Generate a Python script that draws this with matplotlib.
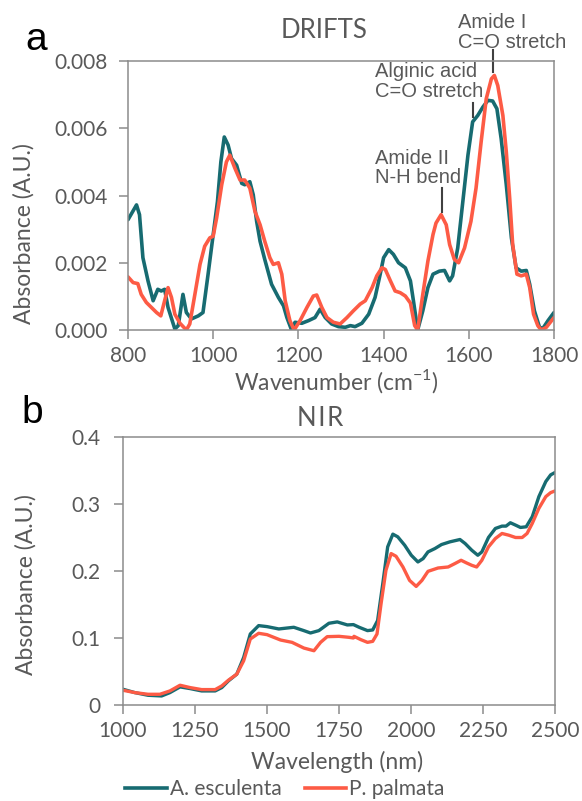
import numpy as np
import matplotlib
matplotlib.use("Agg")
import matplotlib.pyplot as plt

# DRIFTS spectra (absorbance in units of 1e-3)
drifts_wn_esc = [800, 820, 827, 835, 847, 859, 870, 878, 886, 894, 910, 918, 929, 937, 949, 965, 976, 988,
                 1000, 1010, 1018, 1026, 1035, 1043, 1055, 1067, 1074, 1086, 1094, 1102, 1110, 1121, 1137,
                 1153, 1165, 1173, 1184, 1192, 1208, 1224, 1239, 1251, 1263, 1278, 1294, 1310, 1322, 1333,
                 1349, 1365, 1380, 1392, 1400, 1412, 1423, 1435, 1451, 1463, 1470, 1480, 1492, 1504, 1516,
                 1531, 1543, 1555, 1562, 1574, 1586, 1598, 1609, 1621, 1633, 1645, 1656, 1666, 1676, 1688,
                 1700, 1711, 1723, 1735, 1743, 1754, 1766, 1774, 1786, 1800]
drifts_abs_esc = [3.28, 3.72, 3.43, 2.15, 1.46, 0.87, 1.21, 1.16, 1.21, 0.67, 0.03, 0.13, 1.06, 0.52, 0.33,
                  0.42, 0.52, 1.66, 2.84, 3.82, 5.00, 5.74, 5.50, 5.10, 4.90, 4.36, 4.32, 4.41, 4.02, 3.23,
                  2.64, 2.10, 1.36, 0.97, 0.72, 0.37, 0.00, 0.23, 0.20, 0.28, 0.37, 0.62, 0.37, 0.18, 0.10,
                  0.08, 0.13, 0.10, 0.20, 0.47, 0.97, 1.66, 2.15, 2.39, 2.25, 2.00, 1.85, 1.46, 0.87, 0.00,
                  0.57, 1.26, 1.66, 1.75, 1.77, 1.46, 1.61, 2.44, 3.82, 5.20, 6.19, 6.38, 6.63, 6.83, 6.81,
                  6.58, 5.69, 4.32, 2.74, 1.85, 1.75, 1.77, 1.36, 0.57, 0.08, 0.05, 0.28, 0.52]

drifts_wn_pal = [800, 812, 823, 831, 843, 855, 867, 877, 886, 894, 902, 910, 922, 937, 945, 957, 969, 980,
                 992, 1000, 1008, 1020, 1031, 1039, 1051, 1063, 1074, 1086, 1098, 1110, 1121, 1133, 1141,
                 1153, 1161, 1169, 1180, 1190, 1204, 1220, 1235, 1243, 1255, 1267, 1282, 1298, 1314, 1329,
                 1345, 1357, 1373, 1384, 1396, 1404, 1416, 1427, 1439, 1451, 1463, 1473, 1480, 1492, 1504,
                 1516, 1523, 1535, 1547, 1555, 1566, 1576, 1590, 1605, 1617, 1629, 1641, 1653, 1660, 1668,
                 1680, 1688, 1696, 1703, 1713, 1723, 1735, 1743, 1752, 1762, 1770, 1782, 1800]
drifts_abs_pal = [1.58, 1.41, 1.38, 1.06, 0.82, 0.67, 0.52, 0.42, 0.87, 1.26, 0.97, 0.47, 0.20, 0.00, 0.18,
                  1.06, 1.95, 2.49, 2.74, 2.79, 3.33, 4.32, 5.00, 5.20, 4.81, 4.46, 4.46, 4.22, 3.53, 3.13,
                  2.64, 2.15, 1.95, 2.00, 1.66, 0.87, 0.28, 0.00, 0.28, 0.67, 1.01, 1.04, 0.67, 0.37, 0.23,
                  0.18, 0.37, 0.57, 0.77, 0.87, 1.26, 1.61, 1.85, 1.80, 1.46, 1.16, 1.11, 1.01, 0.80, 0.13,
                  0.00, 1.06, 2.05, 2.84, 3.18, 3.43, 3.13, 2.54, 2.10, 2.00, 2.44, 3.23, 4.22, 5.60, 6.88,
                  7.47, 7.57, 7.27, 6.38, 5.30, 3.92, 2.54, 1.66, 1.61, 1.66, 1.26, 0.47, 0.13, 0.00, 0.08,
                  0.37]

# NIR spectra
nir_wl_esc = [1000, 1041, 1087, 1134, 1163, 1198, 1233, 1273, 1320, 1343, 1366, 1395, 1419, 1442, 1471,
              1500, 1541, 1593, 1628, 1651, 1680, 1715, 1744, 1779, 1800, 1820, 1849, 1867, 1884, 1902,
              1919, 1937, 1954, 1978, 2001, 2024, 2042, 2059, 2083, 2106, 2135, 2170, 2188, 2211, 2232,
              2246, 2269, 2293, 2316, 2330, 2345, 2363, 2380, 2400, 2421, 2444, 2468, 2485, 2500]
nir_abs_esc = [0.0235, 0.0185, 0.0145, 0.0135, 0.0185, 0.0270, 0.0245, 0.0210, 0.0210, 0.0260, 0.0360,
               0.0460, 0.0710, 0.1060, 0.1185, 0.1170, 0.1135, 0.1160, 0.1110, 0.1075, 0.1110, 0.1220,
               0.1240, 0.1195, 0.1200, 0.1160, 0.1110, 0.1120, 0.1260, 0.1810, 0.2360, 0.2550, 0.2510,
               0.2385, 0.2235, 0.2135, 0.2185, 0.2285, 0.2335, 0.2395, 0.2435, 0.2470, 0.2410, 0.2310,
               0.2235, 0.2285, 0.2500, 0.2635, 0.2670, 0.2670, 0.2720, 0.2685, 0.2650, 0.2660, 0.2810,
               0.3110, 0.3335, 0.3435, 0.3470]

nir_wl_pal = [1000, 1041, 1087, 1128, 1163, 1198, 1233, 1273, 1320, 1343, 1366, 1395, 1419, 1442, 1471,
              1500, 1547, 1587, 1628, 1663, 1686, 1709, 1750, 1785, 1800, 1802, 1826, 1849, 1867, 1882,
              1896, 1913, 1931, 1948, 1972, 1995, 2018, 2038, 2059, 2094, 2129, 2152, 2174, 2193, 2211,
              2228, 2246, 2269, 2293, 2316, 2339, 2363, 2386, 2403, 2421, 2444, 2468, 2485, 2500]
nir_abs_pal = [0.0220, 0.0185, 0.0160, 0.0160, 0.0210, 0.0295, 0.0260, 0.0230, 0.0230, 0.0285, 0.0370,
               0.0460, 0.0660, 0.0985, 0.1070, 0.1050, 0.0970, 0.0935, 0.0850, 0.0810, 0.0935, 0.1020,
               0.1025, 0.1010, 0.1000, 0.1025, 0.0975, 0.0935, 0.0950, 0.1060, 0.1510, 0.2010, 0.2260,
               0.2220, 0.2060, 0.1860, 0.1770, 0.1860, 0.1995, 0.2045, 0.2060, 0.2110, 0.2160, 0.2120,
               0.2085, 0.2060, 0.2160, 0.2360, 0.2485, 0.2560, 0.2535, 0.2500, 0.2500, 0.2560, 0.2710,
               0.2935, 0.3110, 0.3170, 0.3195]

species = ["A. esculenta", "P. palmata"]

drifts_xticks = [800, 1000, 1200, 1400, 1600, 1800]
drifts_yticks = [0.000, 0.002, 0.004, 0.006, 0.008]
nir_xticks = [1000, 1250, 1500, 1750, 2000, 2250, 2500]
nir_yticks = [0.0, 0.1, 0.2, 0.3, 0.4]
nir_yticklabels = ["0", "0.1", "0.2", "0.3", "0.4"]

# band labels: text, band position (cm-1), marker bottom/top, text anchor (x, y)
band_labels = [
    ("Amide I\nC=O stretch", 1657, 0.00767, 0.00833, 1575, 0.00885),
    ("Alginic acid\nC=O stretch", 1610, 0.00633, 0.00675, 1380, 0.00740),
    ("Amide II\nN-H bend", 1537, 0.00351, 0.00422, 1380, 0.00482),
]

TEAL = "#176b71"
CORAL = "#fd5b45"
GREY_TXT = "#595959"
GREY_AX = "#8c8c8c"

plt.rcParams["font.family"] = ["Lato", "DejaVu Sans"]
plt.rcParams["mathtext.fontset"] = "custom"
plt.rcParams["mathtext.rm"] = "Lato"


def style_axes(ax, ypad):
    for sp in ax.spines.values():
        sp.set_color(GREY_AX)
        sp.set_linewidth(1.1)
    ax.tick_params(axis="both", direction="out", length=6.5, width=1.1, color=GREY_AX,
                   labelcolor=GREY_TXT, labelsize=15)
    ax.tick_params(axis="y", pad=ypad)
    ax.tick_params(axis="x", pad=5)


fig = plt.figure(figsize=(5.82, 8.01), dpi=100)
W, H = 582, 801

# --- panel a: DRIFTS
ax_a = fig.add_axes([128 / W, 1 - 330 / H, 426 / W, 269 / H])
ax_a.plot(drifts_wn_esc, np.array(drifts_abs_esc) * 1e-3, color=TEAL, lw=2.6,
          solid_joinstyle="round", solid_capstyle="round")
ax_a.plot(drifts_wn_pal, np.array(drifts_abs_pal) * 1e-3, color=CORAL, lw=2.6,
          solid_joinstyle="round", solid_capstyle="round")
ax_a.set_xlim(800, 1800)
ax_a.set_ylim(0, 0.008)
ax_a.set_xticks(drifts_xticks)
ax_a.set_yticks(drifts_yticks)
ax_a.set_yticklabels([f"{v:.3f}" for v in drifts_yticks])
style_axes(ax_a, 8)

for txt, wn, y0, y1, tx, ty in band_labels:
    ax_a.plot([wn, wn], [y0, y1], color="#404040", lw=1.5, clip_on=False)
    ax_a.text(tx, ty, txt, ha="left", va="center", fontsize=14.5, color=GREY_TXT,
              family=["Liberation Sans", "DejaVu Sans"], linespacing=1.05, clip_on=False)

fig.text(324 / W, 1 - 31 / H, "DRIFTS", ha="center", va="center", fontsize=18.5, color=GREY_TXT)
fig.text(24 / W, 1 - 234 / H, "Absorbance (A.U.)", rotation=90, ha="center", va="center",
         fontsize=16.5, color=GREY_TXT)
fig.text(336 / W, 1 - 381 / H, r"Wavenumber (cm$^{\mathregular{-1}}$)", ha="center", va="center",
         fontsize=16.5, color=GREY_TXT)
fig.text(36 / W, 1 - 40 / H, "a", ha="center", va="center", fontsize=28, color="black",
         family=["Liberation Sans", "DejaVu Sans"])

# --- panel b: NIR
ax_b = fig.add_axes([123 / W, 1 - 705 / H, 432 / W, 268 / H])
l1, = ax_b.plot(nir_wl_esc, nir_abs_esc, color=TEAL, lw=2.4, solid_joinstyle="round")
l2, = ax_b.plot(nir_wl_pal, nir_abs_pal, color=CORAL, lw=2.4, solid_joinstyle="round")
ax_b.set_xlim(1000, 2500)
ax_b.set_ylim(0, 0.4)
ax_b.set_xticks(nir_xticks)
ax_b.set_yticks(nir_yticks)
ax_b.set_yticklabels(nir_yticklabels)
style_axes(ax_b, 10)

fig.text(320 / W, 1 - 419 / H, "N\u200aI\u200aR", ha="center", va="center", fontsize=18.5,
         color=GREY_TXT)
fig.text(26 / W, 1 - 585 / H, "Absorbance (A.U.)", rotation=90, ha="center", va="center",
         fontsize=16.5, color=GREY_TXT)
fig.text(337 / W, 1 - 762 / H, "Wavelength (nm)", ha="center", va="center",
         fontsize=16.5, color=GREY_TXT)
fig.text(32 / W, 1 - 413 / H, "b", ha="center", va="center", fontsize=28, color="black",
         family=["Liberation Sans", "DejaVu Sans"])

leg = fig.legend([l1, l2], species, loc="center", bbox_to_anchor=(285 / W, 1 - 789 / H),
                 ncol=2, frameon=False, fontsize=15, handlelength=2.0, handletextpad=0.15,
                 columnspacing=1.1, borderpad=0)
for t in leg.get_texts():
    t.set_color(GREY_TXT)
for ln in leg.get_lines():
    ln.set_linewidth(2.6)

fig.savefig("out.png", dpi=100)
